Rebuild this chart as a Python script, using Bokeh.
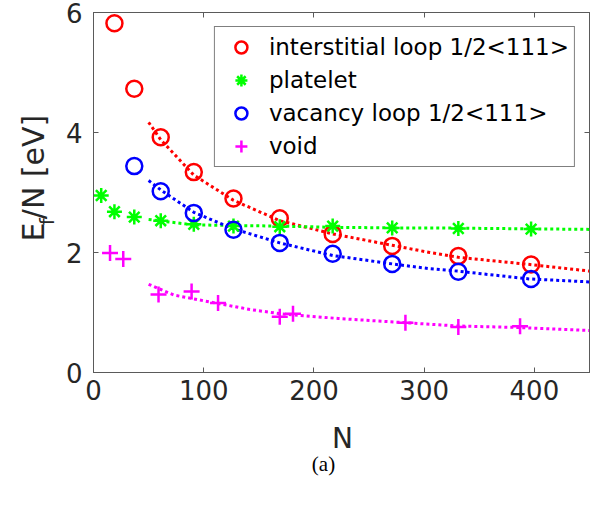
import math
from bokeh.plotting import figure
from bokeh.layouts import row, column
from bokeh.models import LinearAxis, Range1d, Legend, LegendItem, FixedTicker, Label
from bokeh.embed import file_html
from bokeh.resources import INLINE

# ---------------- data ----------------
inter_N = [19, 37, 61, 91, 127, 169, 217, 271, 331, 397]
inter_E = [5.82, 4.73, 3.92, 3.34, 2.90, 2.57, 2.31, 2.11, 1.94, 1.80]

plat_N = [7, 19, 37, 61, 91, 127, 169, 217, 271, 331, 397]
plat_E = [2.95, 2.68, 2.59, 2.53, 2.47, 2.44, 2.43, 2.44, 2.41, 2.40, 2.39]

vac_N = [37, 61, 91, 127, 169, 217, 271, 331, 397]
vac_E = [3.44, 3.02, 2.66, 2.38, 2.16, 1.98, 1.81, 1.68, 1.56]

void_N = [15, 27, 59, 89, 113, 169, 181, 283, 331, 387]
void_E = [1.99, 1.89, 1.30, 1.35, 1.16, 0.93, 0.98, 0.83, 0.76, 0.77]

# fitted (dotted) curves
inter_fit_N = [50, 61, 91, 127, 169, 217, 271, 305, 331, 396, 450]
inter_fit_E = [4.17, 3.88, 3.29, 2.87, 2.53, 2.31, 2.12, 2.00, 1.92, 1.80, 1.69]

vac_fit_N = [50, 62, 91, 126, 169, 217, 271, 305, 330, 395, 450]
vac_fit_E = [3.20, 3.03, 2.67, 2.40, 2.16, 1.95, 1.81, 1.73, 1.69, 1.56, 1.51]

plat_fit_N = [50, 91, 127, 169, 217, 271, 305, 450]
plat_fit_E = [2.55, 2.46, 2.45, 2.44, 2.42, 2.41, 2.41, 2.385]

void_fit_N = [50, 73, 113, 142, 169, 222, 283, 330, 386, 450]
void_fit_E = [1.47, 1.29, 1.15, 1.05, 0.98, 0.90, 0.83, 0.775, 0.75, 0.70]

x_ticks = [0, 100, 200, 300, 400]
y_ticks = [0, 2, 4, 6]

legend_labels = ["interstitial loop 1/2<111>", "platelet",
                 "vacancy loop 1/2<111>", "void"]
x_label = "N"
y_label_parts = ["E", "f", "/N [eV]"]
caption = "(a)"

# ---------------- layout constants ----------------
FONT = "DejaVu Sans"
AX = "#262626"
AXLINE = "#5a5a5a"
LW = 60                 # width of the y-label strip
MAIN_W, MAIN_H = 597 - LW, 418
CAP_H = 508 - MAIN_H    # strip below: x-axis title and caption

# ---------------- main figure ----------------
p = figure(width=MAIN_W, height=MAIN_H, x_range=Range1d(0, 450), y_range=Range1d(0, 6),
           output_backend="svg", toolbar_location=None,
           min_border_left=93 - LW, min_border_right=8, min_border_top=12,
           min_border_bottom=MAIN_H - 372)
p.grid.visible = False
p.outline_line_color = AXLINE
p.background_fill_color = "white"
p.border_fill_color = "white"

p.xaxis.ticker = FixedTicker(ticks=x_ticks)
p.yaxis.ticker = FixedTicker(ticks=y_ticks)

for ax in [p.xaxis[0], p.yaxis[0]]:
    ax.axis_line_color = AXLINE
    ax.major_tick_line_color = AXLINE
    ax.major_tick_in = 5
    ax.major_tick_out = 0
    ax.minor_tick_line_color = None
    ax.major_label_text_font = FONT
    ax.major_label_text_font_size = "26px"
    ax.major_label_text_color = AX

p.xaxis.major_label_standoff = 7
p.yaxis.major_label_standoff = 11

# mirrored box axes (top, right) with inward ticks and no labels
top = LinearAxis(ticker=FixedTicker(ticks=x_ticks))
right = LinearAxis(ticker=FixedTicker(ticks=y_ticks))
for ax in [top, right]:
    ax.axis_line_color = AXLINE
    ax.major_tick_line_color = AXLINE
    ax.major_tick_in = 5
    ax.major_tick_out = 0
    ax.minor_tick_line_color = None
    ax.major_label_text_font_size = "0px"
    ax.major_label_standoff = 0
    ax.major_label_text_alpha = 0
p.add_layout(top, "above")
p.add_layout(right, "right")

# ---------------- fitted dotted curves ----------------
dot = dict(line_width=3, line_dash="3 3", line_cap="butt")
p.line(inter_fit_N, inter_fit_E, line_color="#ff0000", **dot)
p.line(plat_fit_N, plat_fit_E, line_color="#00ff00", **dot)
p.line(vac_fit_N, vac_fit_E, line_color="#0000ff", **dot)
p.line(void_fit_N, void_fit_E, line_color="#ff00ff", **dot)

# ---------------- markers ----------------
r_inter = p.scatter(inter_N, inter_E, marker="circle", size=16, fill_color=None,
                    line_color="#ff0000", line_width=2.5)
r_plat = p.scatter(plat_N, plat_E, marker="asterisk", size=15,
                   line_color="#00ff00", line_width=2.5)
r_vac = p.scatter(vac_N, vac_E, marker="circle", size=16, fill_color=None,
                  line_color="#0000ff", line_width=2.5)
r_void = p.scatter(void_N, void_E, marker="cross", size=16,
                   line_color="#ff00ff", line_width=2.5)

legend = Legend(items=[LegendItem(label=legend_labels[0], renderers=[r_inter]),
                       LegendItem(label=legend_labels[1], renderers=[r_plat]),
                       LegendItem(label=legend_labels[2], renderers=[r_vac]),
                       LegendItem(label=legend_labels[3], renderers=[r_void])],
                location="top_right", margin=14, padding=5, spacing=3,
                glyph_height=30, glyph_width=42, label_standoff=7,
                label_text_font=FONT, label_text_font_size="23px",
                label_text_color="black",
                border_line_color="black", border_line_width=1,
                background_fill_color="white", background_fill_alpha=1)
p.add_layout(legend)


def strip(w, h):
    f = figure(width=w, height=h, x_range=Range1d(0, w), y_range=Range1d(0, h),
               output_backend="svg", toolbar_location=None,
               x_axis_type=None, y_axis_type=None,
               min_border=0, min_border_left=0, min_border_right=0,
               min_border_top=0, min_border_bottom=0)
    f.grid.visible = False
    f.outline_line_color = None
    f.border_fill_color = "white"
    f.background_fill_color = "white"
    return f


# ---------------- y-axis label strip (E_f/N [eV]) ----------------
yl = strip(LW, MAIN_H)
e_start = MAIN_H - 266          # bottom end of the label, in strip pixels
rot = dict(angle=math.pi / 2, text_font=FONT, text_color=AX,
           text_align="left", text_baseline="middle")
yl.add_layout(Label(x=33, y=e_start, text=y_label_parts[0], text_font_size="30px", **rot))
yl.add_layout(Label(x=46, y=e_start + 19, text=y_label_parts[1], text_font_size="20px", **rot))
yl.add_layout(Label(x=33, y=e_start + 26, text=y_label_parts[2], text_font_size="30px", **rot))

# ---------------- bottom strip: x-axis title + caption ----------------
cap = strip(597, CAP_H)
cap.add_layout(Label(x=342, y=CAP_H - (438 - MAIN_H), text=x_label, text_font=FONT,
                     text_font_size="28px", text_color=AX,
                     text_align="center", text_baseline="middle"))
cap.add_layout(Label(x=323, y=CAP_H - (463 - MAIN_H), text=caption,
                     text_font="Liberation Serif", text_font_size="21px",
                     text_color="black", text_align="center",
                     text_baseline="middle"))

layout = column(row(yl, p, spacing=0), cap, spacing=0)
open("out.html", "w").write(file_html(layout, INLINE))
